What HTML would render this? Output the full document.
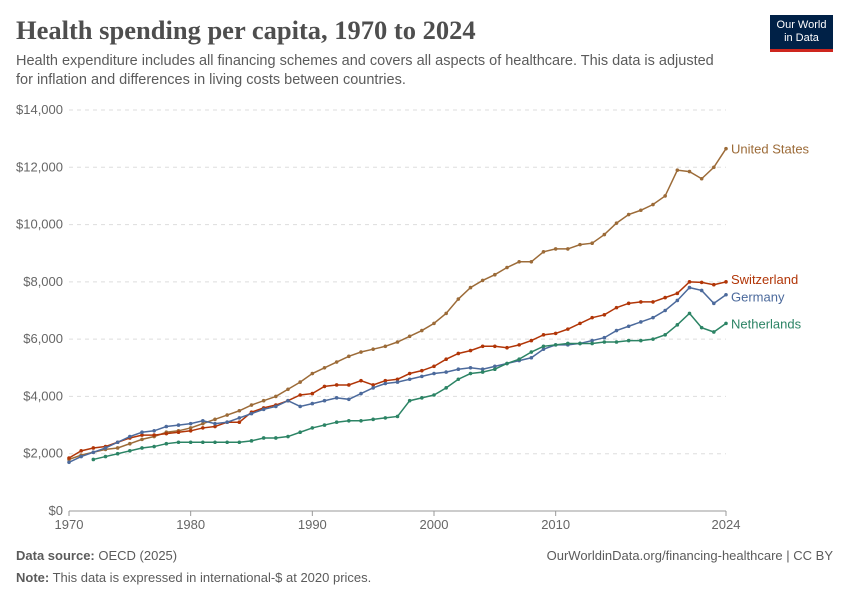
<!DOCTYPE html>
<html><head><meta charset="utf-8"><style>
body{margin:0;width:850px;height:600px;background:#fff;font-family:"Liberation Sans",sans-serif;overflow:hidden;position:relative}
.t{position:absolute;margin:0}
</style></head><body>
<h1 class="t" style="left:16px;top:15px;font-family:'Liberation Serif',serif;font-size:26.5px;font-weight:bold;color:#4e4e4e">Health spending per capita, 1970 to 2024</h1>
<p class="t" style="left:16px;top:52px;width:705px;font-size:14.5px;line-height:19px;color:#5b5b5b">Health expenditure includes all financing schemes and covers all aspects of healthcare. This data is adjusted for inflation and differences in living costs between countries.</p>
<div style="position:absolute;left:770px;top:15px;width:63px;height:37px;background:#002147;border-bottom:3px solid #ce261e;color:#fff;font-size:11px;line-height:13px;text-align:center;padding-top:4px;box-sizing:border-box">Our World<br>in Data</div>
<svg id="c" width="850" height="600" style="position:absolute;left:0;top:0"></svg>
<p class="t" style="left:16px;top:548px;font-size:13px;color:#5b5b5b"><b>Data source:</b> OECD (2025)</p>
<p class="t" style="right:17px;top:548px;font-size:13px;color:#5b5b5b">OurWorldinData.org/financing-healthcare | CC BY</p>
<p class="t" style="left:16px;top:570px;font-size:13px;color:#5b5b5b"><b>Note:</b> This data is expressed in international-$ at 2020 prices.</p>
<script>
const years=[];for(let y=1970;y<=2024;y++)years.push(y);
const usValues=[1800,1950,2050,2150,2200,2350,2500,2600,2750,2800,2900,3050,3200,3350,3500,3700,3850,4000,4250,4500,4800,5000,5200,5400,5550,5650,5750,5900,6100,6300,6550,6900,7400,7800,8050,8250,8500,8700,8700,9050,9150,9150,9300,9350,9650,10050,10350,10500,10700,11000,11900,11850,11600,12000,12650];
const chValues=[1850,2100,2200,2250,2400,2550,2650,2650,2700,2750,2800,2900,2950,3100,3100,3450,3600,3700,3850,4050,4100,4350,4400,4400,4550,4400,4550,4600,4800,4900,5050,5300,5500,5600,5750,5750,5700,5800,5950,6150,6200,6350,6550,6750,6850,7100,7250,7300,7300,7450,7600,8000,7980,7900,8000];
const deValues=[1700,1900,2050,2200,2400,2600,2750,2800,2950,3000,3050,3150,3050,3100,3250,3400,3550,3650,3850,3650,3750,3850,3950,3900,4100,4300,4450,4500,4600,4700,4800,4850,4950,5000,4950,5050,5150,5250,5350,5650,5800,5800,5850,5950,6050,6300,6450,6600,6750,7000,7350,7800,7700,7250,7550];
const nlValues=[null,null,1800,1900,2000,2100,2200,2250,2350,2400,2400,2400,2400,2400,2400,2450,2550,2550,2600,2750,2900,3000,3100,3150,3150,3200,3250,3300,3850,3950,4050,4300,4600,4800,4850,4950,5150,5300,5550,5750,5800,5850,5850,5850,5900,5900,5950,5950,6000,6150,6500,6900,6400,6250,6550];
const yTicks=[0,2000,4000,6000,8000,10000,12000,14000];
const xTicks=[1970,1980,1990,2000,2010,2024];
const series=[["United States",usValues,"#9c6b38",0],["Switzerland",chValues,"#b13507",-3],["Germany",deValues,"#4c6a9c",2],["Netherlands",nlValues,"#2c8465",0]];
const X=y=>69+(y-1970)*(726-69)/54, Y=v=>511-v*401/14000;
const svg=document.getElementById('c'),NS='http://www.w3.org/2000/svg';
function mk(t,a,p){const e=document.createElementNS(NS,t);for(const k in a)e.setAttribute(k,a[k]);(p||svg).appendChild(e);return e;}
yTicks.forEach(v=>{
 const l=mk('line',{x1:69,x2:726,y1:Y(v),y2:Y(v),stroke:v?'#ddd':'#999','stroke-dasharray':v?'4,4':'none'});
 
 
 const t=mk('text',{x:63,y:Y(v)+4,'text-anchor':'end','font-size':13,fill:'#666','font-family':'Liberation Sans'});
 t.textContent='$'+v.toLocaleString('en-US');
 
 
});
xTicks.forEach(y=>{
 mk('line',{x1:X(y),x2:X(y),y1:511,y2:516,stroke:'#999'});
 const t=mk('text',{x:X(y),y:529,'text-anchor':'middle','font-size':13,fill:'#666','font-family':'Liberation Sans'});
 t.textContent=y;
 
 
});
series.forEach(([name,vals,col,dy])=>{
 const g=mk('g',{});
 
 
 const pts=[];vals.forEach((v,i)=>{if(v!=null)pts.push([X(years[i]),Y(v)]);});
 mk('polyline',{points:pts.map(p=>p.join(',')).join(' '),fill:'none',stroke:col,'stroke-width':1.5},g);
 pts.forEach(p=>mk('circle',{cx:p[0],cy:p[1],r:1.8,fill:col},g));
 const last=pts[pts.length-1];
 const t=mk('text',{x:last[0]+5,y:last[1]+5+dy,'font-size':13,fill:col,'font-family':'Liberation Sans'});
 t.textContent=name;
 
 
});
</script>
</body></html>
